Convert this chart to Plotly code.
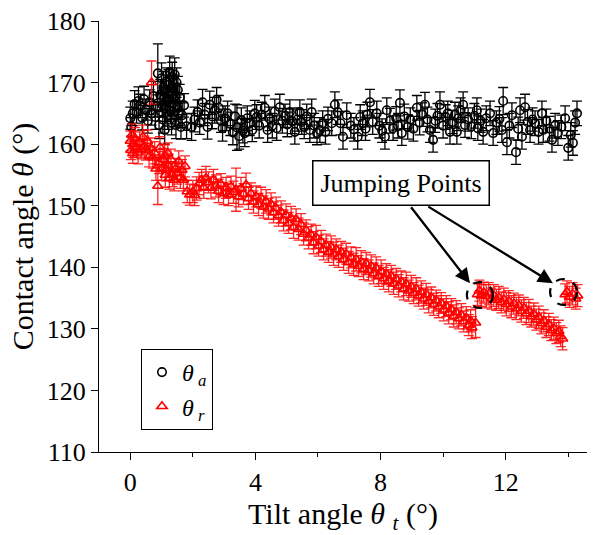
import plotly.graph_objects as go

# theta_a (advancing) series
ta_x = [0.00, 0.03, 0.08, 0.14, 0.20, 0.26, 0.32, 0.38, 0.44, 0.50, 0.56, 0.62, 0.68, 0.74, 0.80, 0.86, 0.88, 0.92, 0.96,
        1.00, 1.02, 1.04, 1.06, 1.08, 1.10, 1.12, 1.14, 1.16, 1.18, 1.20, 1.22, 1.24, 1.26, 1.28, 1.30, 1.32, 1.34, 1.36,
        1.38, 1.40, 1.42, 1.44, 1.46, 1.48, 1.50, 1.52, 1.55, 1.58, 1.62, 1.66, 1.72,
        1.80, 1.96, 2.05, 2.15, 2.22, 2.31, 2.38, 2.47, 2.54, 2.62, 2.70, 2.76, 2.83, 2.90, 2.95, 3.03, 3.11, 3.20, 3.28,
        3.35, 3.41, 3.48, 3.55, 3.60, 3.66, 3.74, 3.82, 3.90, 3.98, 4.04, 4.12, 4.20, 4.30, 4.39, 4.46, 4.54, 4.62, 4.68,
        4.78, 4.86, 4.95, 5.02, 5.10, 5.18, 5.26, 5.34, 5.42, 5.48, 5.56, 5.64, 5.74, 5.80, 5.88, 5.97, 6.06, 6.15, 6.24,
        6.32, 6.44, 6.54, 6.63, 6.72, 6.80, 6.92, 7.05, 7.15, 7.27, 7.35, 7.43, 7.52, 7.58, 7.66, 7.75, 7.88, 7.96, 8.05,
        8.14, 8.20, 8.30, 8.40, 8.50, 8.56, 8.62, 8.68, 8.76, 8.87, 8.95, 9.05, 9.16, 9.25, 9.33, 9.42, 9.50, 9.58, 9.68,
        9.75, 9.82, 9.90, 10.00, 10.08, 10.15, 10.22, 10.30, 10.38, 10.44, 10.48, 10.56, 10.64, 10.70, 10.80, 10.90,
        11.00, 11.08, 11.11, 11.20, 11.28, 11.38, 11.50, 11.60, 11.70, 11.80, 11.88, 11.92, 12.04, 12.12, 12.20, 12.33,
        12.40, 12.46, 12.52, 12.62, 12.70, 12.78, 12.86, 12.94, 13.05, 13.16, 13.20, 13.30, 13.40, 13.48, 13.58, 13.67,
        13.78, 13.90, 14.00, 14.08, 14.15, 14.22, 14.28]
ta_y = [164.2, 162.8, 165.0, 166.5, 165.2, 167.0, 166.2, 164.3, 167.3, 165.6, 163.8, 166.8, 165.0, 167.8, 164.4, 166.2, 171.5, 163.1, 168.0,
        170.7, 166.4, 164.0, 169.2, 167.5, 162.3, 165.8, 168.8, 170.2, 166.9, 164.6, 169.6, 167.2, 171.7, 165.4, 168.4, 163.5, 170.9, 166.6,
        169.0, 164.8, 171.3, 167.8, 163.1, 170.0, 166.0, 168.8, 165.0, 167.6, 162.8, 164.7, 166.3,
        162.9, 162.8, 164.0, 165.2, 163.5, 166.8, 164.8, 162.8, 166.4, 164.5, 165.5, 167.2, 165.9, 163.8, 162.6, 164.2, 165.0, 163.3, 161.9,
        164.5, 162.7, 161.3, 163.9, 162.2, 161.8, 164.2, 163.4, 162.3, 165.0, 164.4, 163.0, 164.8, 165.9, 162.3, 164.1, 163.0, 165.3, 162.6,
        166.0, 163.8, 164.6, 163.2, 165.2, 163.7, 162.0, 164.0, 165.2, 163.6, 162.8, 164.5, 162.3, 165.2, 163.0, 161.8, 162.3, 163.4, 162.0,
        164.1, 163.4, 166.4, 165.2, 163.4, 161.2, 164.7, 163.0, 162.4, 161.2, 164.4, 163.4, 162.5, 164.8, 166.8, 163.6, 165.0, 163.0, 162.2,
        161.2, 165.5, 163.8, 162.6, 164.2, 163.0, 166.7, 161.8, 164.5, 162.8, 164.0, 162.5, 165.9, 163.5, 164.8, 166.4, 164.0, 162.3, 160.7,
        163.8, 164.6, 166.4, 163.0, 164.4, 165.0, 162.0, 163.6, 164.8, 162.0, 164.2, 165.5, 166.4, 163.1, 164.0, 162.9,
        164.6, 165.5, 162.6, 163.8, 162.0, 164.2, 165.0, 161.8, 163.5, 164.1, 162.3, 167.0, 160.3, 163.0, 164.7, 158.7,
        162.5, 165.5, 161.2, 166.0, 163.6, 162.3, 164.0, 163.4, 162.0, 165.0, 162.3, 163.8, 162.5, 160.7, 163.0, 161.8,
        162.8, 164.2, 159.4, 161.5, 160.2, 163.5, 165.0]
ta_err = [1.8, 1.5, 2.0, 2.2, 1.8, 2.3, 1.9, 2.0, 2.1, 1.7, 2.0, 2.0, 1.9, 2.4, 2.0, 1.8, 4.8, 2.2, 2.5,
          2.5, 2.0, 2.2, 2.6, 2.0, 2.3, 2.1, 2.4, 2.2, 2.0, 2.2, 2.5, 2.0, 2.6, 2.1, 2.3, 2.0, 2.4, 2.0,
          2.2, 2.0, 2.7, 2.1, 2.2, 2.4, 2.0, 2.2, 2.0, 2.1, 2.0, 2.0, 1.9,
          2.0, 2.2, 2.0, 2.0, 1.9, 2.1, 1.8, 2.0, 2.2, 2.0, 2.1, 2.0, 2.0, 1.9, 2.1, 2.0, 2.0, 1.9, 2.0,
          2.0, 3.7, 2.1, 2.0, 2.0, 2.2, 2.0, 2.0, 1.9, 2.1, 2.0, 2.0, 2.0, 2.0, 2.0, 1.9, 2.0, 2.0, 2.0,
          2.1, 2.0, 1.9, 2.0, 2.0, 2.0, 2.0, 1.9, 2.0, 2.0, 1.9, 2.0, 2.0, 2.1, 2.0, 1.9, 2.0, 2.0, 2.0,
          1.9, 2.0, 2.1, 2.0, 1.9, 2.0, 2.0, 2.0, 1.9, 2.0, 2.0, 2.0, 1.9, 2.0, 2.1, 2.0, 2.0, 2.0, 1.9,
          2.0, 2.0, 2.0, 2.0, 1.9, 2.0, 2.1, 2.0, 2.0, 2.0, 1.9, 2.0, 2.0, 2.0, 1.9, 2.0, 2.0, 2.0, 2.0,
          1.9, 2.0, 2.1, 2.0, 2.0, 2.0, 2.0, 1.9, 2.0, 2.0, 2.0, 2.0, 2.1, 2.0, 1.9, 2.0,
          2.0, 2.0, 2.0, 1.9, 2.0, 2.0, 2.0, 2.0, 1.9, 2.0, 2.0, 2.2, 2.0, 2.0, 2.0, 2.0,
          1.9, 2.0, 2.0, 2.1, 2.0, 2.0, 1.9, 2.0, 2.0, 2.0, 2.0, 1.9, 2.0, 2.0, 2.0, 2.0,
          1.9, 2.0, 2.0, 2.0, 2.0, 1.9, 2.0]

# theta_r (receding) series
tr_x = [0.00, 0.02, 0.05, 0.08, 0.10, 0.15, 0.20, 0.25, 0.30, 0.35, 0.40, 0.45, 0.50, 0.55, 0.60, 0.65, 0.68, 0.72,
        0.78, 0.82, 0.88, 0.92, 0.95, 1.00, 1.05, 1.10, 1.12, 1.15, 1.20, 1.22, 1.25, 1.30, 1.35, 1.40, 1.45, 1.50,
        1.55, 1.60, 1.65, 1.70, 1.75, 1.82, 1.90,
        2.00, 2.06, 2.12, 2.20, 2.28, 2.35, 2.42, 2.50, 2.58, 2.66, 2.74, 2.82, 2.90, 2.98, 3.06, 3.14, 3.22, 3.30,
        3.38, 3.46, 3.54, 3.62, 3.70, 3.78, 3.86, 3.94, 4.02, 4.10, 4.18, 4.26, 4.34, 4.42, 4.50, 4.58, 4.66, 4.74,
        4.82, 4.90, 4.98, 5.06, 5.14, 5.22, 5.30, 5.38, 5.46, 5.54, 5.62, 5.70, 5.78, 5.86, 5.94, 6.02, 6.10, 6.18,
        6.26, 6.34, 6.42, 6.50, 6.58, 6.66, 6.74, 6.82, 6.90, 6.98, 7.06, 7.14, 7.22, 7.30, 7.38, 7.46, 7.54, 7.62,
        7.70, 7.78, 7.86, 7.94, 8.02, 8.10, 8.18, 8.26, 8.34, 8.42, 8.50, 8.58, 8.66, 8.74, 8.82, 8.90, 8.98, 9.06,
        9.14, 9.22, 9.30, 9.38, 9.46, 9.54, 9.62, 9.70, 9.78, 9.86, 9.94, 10.02, 10.10, 10.18, 10.26, 10.34, 10.42,
        10.50, 10.58, 10.66, 10.74, 10.82, 10.88, 10.92, 11.04,
        11.10, 11.16, 11.22, 11.30, 11.38, 11.46, 11.54, 11.62, 11.70, 11.78, 11.86, 11.94, 12.02, 12.10, 12.18,
        12.26, 12.34, 12.42, 12.50, 12.58, 12.66, 12.74, 12.82, 12.90, 12.98, 13.06, 13.14, 13.22, 13.30, 13.38,
        13.46, 13.54, 13.62, 13.70, 13.76, 13.82, 13.90, 13.96, 14.04, 14.14, 14.24, 14.30]
tr_y = [160.5, 159.0, 161.5, 158.5, 160.0, 161.0, 159.5, 158.6, 160.3, 159.2, 161.2, 159.6, 159.0, 160.5, 158.0, 159.4, 170.0, 157.8,
        158.6, 156.0, 153.2, 157.0, 159.5, 156.0, 157.5, 158.2, 155.0, 155.8, 158.5, 156.5, 154.5, 157.5, 155.0, 154.2, 156.0, 155.3,
        157.2, 154.6, 155.8, 154.2, 156.4, 152.3, 151.8,
        152.3, 151.7, 152.8, 153.6, 154.2, 153.0, 154.5, 153.8, 152.9, 154.2, 153.2, 152.4, 153.5, 152.0, 152.9, 151.8, 153.1, 152.2,
        152.6, 151.5, 152.8, 151.9, 153.4, 151.2, 152.0, 150.6, 151.5, 150.2, 151.3, 149.8, 150.7, 149.5, 150.3, 148.9, 149.6, 148.4,
        149.0, 147.6, 148.5, 147.2, 148.0, 146.5, 147.8, 146.2, 147.0, 145.4, 146.0, 144.8, 145.3, 144.0, 144.9, 143.5, 144.2, 142.9,
        143.6, 142.5, 143.3, 142.2, 142.9, 141.8, 142.5, 141.3, 142.2, 140.8, 141.6, 140.5, 141.3, 140.2, 140.9, 139.7, 140.6, 139.5,
        140.2, 139.0, 139.9, 138.6, 139.3, 138.2, 138.9, 137.8, 138.6, 137.4, 138.1, 137.0, 137.7, 136.5, 137.3, 136.2, 136.9, 135.8,
        136.5, 135.4, 136.0, 134.9, 135.6, 134.5, 135.1, 134.0, 134.6, 133.6, 134.2, 133.1, 133.7, 132.6, 133.2, 132.1, 132.7,
        131.7, 132.3, 131.2, 131.8, 130.6, 131.3, 130.2, 131.0,
        135.6, 136.2, 135.4, 135.9, 135.3, 135.7, 134.9, 135.4, 134.7, 135.1, 134.3, 134.8, 134.0, 134.5, 133.6,
        134.1, 133.3, 133.8, 132.9, 133.4, 132.5, 132.9, 132.0, 132.4, 131.5, 131.9, 130.9, 131.3, 130.3, 130.7,
        129.8, 130.1, 129.3, 129.6, 128.8, 128.4, 135.6, 136.0, 135.2, 135.7, 134.9, 135.4]
tr_err = [1.6, 1.5, 1.8, 1.6, 2.2, 1.7, 1.6, 1.8, 1.7, 1.6, 1.9, 1.7, 1.6, 1.8, 1.7, 1.6, 3.5, 1.7,
          1.8, 1.9, 3.0, 1.8, 1.7, 1.9, 1.8, 1.7, 2.0, 1.8, 1.7, 1.9, 1.8, 1.7, 1.9, 1.8, 1.7, 1.8,
          1.7, 1.8, 1.7, 1.8, 1.7, 1.8, 1.7,
          1.8, 1.7, 1.9, 1.8, 1.7, 1.8, 1.9, 1.7, 1.8, 1.7, 1.8, 1.9, 1.7, 1.8, 1.7, 1.8, 1.7, 1.8,
          3.5, 1.7, 1.8, 1.7, 1.9, 1.8, 1.7, 1.8, 1.7, 1.8, 1.7, 1.8, 1.9, 1.7, 1.8, 1.7, 1.8, 1.7,
          1.8, 1.7, 1.8, 1.7, 1.9, 1.8, 1.7, 1.8, 1.7, 1.8, 1.7, 1.8, 1.7, 1.8, 1.9, 1.7, 1.8, 1.7,
          1.8, 1.7, 1.8, 1.9, 1.7, 1.8, 1.7, 1.8, 1.7, 1.8, 1.7, 1.8, 1.9, 1.7, 1.8, 1.7, 1.8, 1.7,
          1.8, 1.7, 1.8, 1.7, 1.9, 1.8, 1.7, 1.8, 1.7, 1.8, 1.7, 1.8, 1.7, 1.8, 1.9, 1.7, 1.8, 1.7,
          1.8, 1.7, 1.8, 1.7, 1.8, 1.9, 1.7, 1.8, 1.7, 1.8, 1.7, 1.8, 1.7, 1.8, 1.7, 1.8, 1.9,
          1.7, 1.8, 1.7, 1.8, 1.7, 1.8, 1.8, 2.4,
          1.8, 1.7, 1.8, 1.7, 1.9, 1.8, 1.7, 1.8, 1.7, 1.8, 1.7, 1.8, 1.9, 1.7, 1.8,
          1.7, 1.8, 1.7, 1.8, 1.7, 1.8, 1.9, 1.7, 1.8, 1.7, 1.8, 1.7, 1.8, 1.7, 1.8,
          1.7, 1.8, 1.7, 1.8, 1.7, 1.8, 1.7, 1.8, 1.7, 1.8, 1.7, 1.8]

FONT = "Liberation Serif"

fig = go.Figure()
fig.add_trace(go.Scatter(
    x=ta_x, y=ta_y, mode="markers", name="<i>θ</i><sub> <i>a</i></sub>",
    marker=dict(symbol="circle-open", size=8.5, color="black", line=dict(width=1.6, color="black")),
    error_y=dict(type="data", array=ta_err, visible=True, color="black", thickness=1.3, width=5),
))
fig.add_trace(go.Scatter(
    x=tr_x, y=tr_y, mode="markers", name="<i>θ</i><sub> <i>r</i></sub>",
    marker=dict(symbol="triangle-up-open", size=9, color="red", line=dict(width=1.6, color="red")),
    error_y=dict(type="data", array=tr_err, visible=True, color="rgba(255,0,0,0.85)", thickness=1.3, width=5),
))

# dashed circles around jumping points
fig.add_shape(type="circle", xref="x", yref="y", x0=10.76, x1=11.59, y0=133.4, y1=137.6,
              line=dict(color="black", width=2.2, dash="dash"))
fig.add_shape(type="circle", xref="x", yref="y", x0=13.42, x1=14.28, y0=133.9, y1=138.1,
              line=dict(color="black", width=2.2, dash="dash"))

# label box
fig.add_annotation(x=8.65, y=153.7, xref="x", yref="y", text="Jumping Points", showarrow=False,
                   font=dict(family=FONT, size=26, color="black"),
                   bordercolor="black", borderwidth=1.5, borderpad=7, bgcolor="white")
# arrows
fig.add_annotation(x=10.86, y=137.4, ax=8.94, ay=150.0, xref="x", yref="y", axref="x", ayref="y",
                   text="", showarrow=True, arrowhead=2, arrowsize=1.3, arrowwidth=2.3, arrowcolor="black")
fig.add_annotation(x=13.51, y=137.4, ax=9.48, ay=150.0, xref="x", yref="y", axref="x", ayref="y",
                   text="", showarrow=True, arrowhead=2, arrowsize=1.3, arrowwidth=2.3, arrowcolor="black")

fig.update_layout(
    width=594, height=535,
    margin=dict(l=99, r=7, t=21, b=83, autoexpand=False),
    paper_bgcolor="white", plot_bgcolor="white",
    font=dict(family=FONT, size=26, color="black"),
    showlegend=True,
    legend=dict(x=0.086, y=0.239, xanchor="left", yanchor="top",
                bordercolor="black", borderwidth=1, bgcolor="white",
                font=dict(family=FONT, size=24, color="black"),
                itemwidth=30, tracegroupgap=0),
    xaxis=dict(range=[-1.0, 14.6], showgrid=False, zeroline=False, showline=True, linecolor="black", linewidth=1.2,
               automargin=False,
               ticks="outside", ticklen=7, tickwidth=1.2, tickcolor="black", dtick=4, tick0=0,
               minor=dict(ticks="outside", ticklen=4, dtick=2, tick0=0, tickcolor="black", tickwidth=1.2),
               tickfont=dict(family=FONT, size=26),
               title=dict(text="Tilt angle <i>θ</i> <sub><i>t</i></sub> (°)", font=dict(family=FONT, size=30), standoff=2)),
    yaxis=dict(range=[110, 180], showgrid=False, zeroline=False, showline=True, linecolor="black", linewidth=1.2,
               automargin=False,
               ticks="outside", ticklen=7, tickwidth=1.2, tickcolor="black", dtick=10,
               tickfont=dict(family=FONT, size=26),
               title=dict(text="Contact angle <i>θ</i> (°)", font=dict(family=FONT, size=30), standoff=4)),
)

fig.write_html("out.html", config={"displayModeBar": False},
               post_script="document.body.style.margin='0';document.body.style.padding='0';")
